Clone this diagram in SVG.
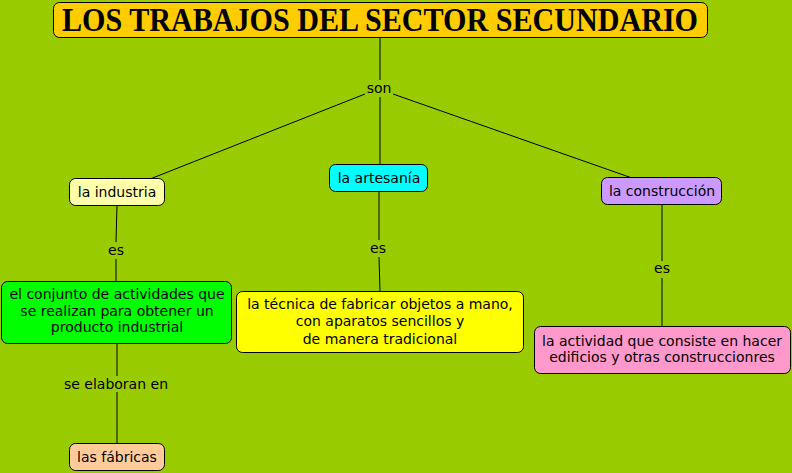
<svg xmlns="http://www.w3.org/2000/svg" width="792" height="473" viewBox="0 0 792 473">
<style>
.n{stroke:#000;stroke-width:1}
.t{font-family:"DejaVu Sans",Verdana,sans-serif;font-size:14px;fill:#000;text-anchor:middle}
.c line{stroke:#000;stroke-width:1}
.lbl{font-family:"DejaVu Sans",Verdana,sans-serif;font-size:14px;fill:#000;text-anchor:middle}
</style>
<rect width="792" height="473" fill="#99CC00"/>
<g class="c" id="connectors">
<line x1="380" y1="37" x2="380" y2="80"/>
<line x1="380" y1="97" x2="380" y2="164"/>
<line x1="365" y1="94" x2="150" y2="179"/>
<line x1="393" y1="94" x2="632" y2="178"/>
<line x1="117" y1="205" x2="116" y2="242"/>
<line x1="116" y1="259" x2="116" y2="281"/>
<line x1="117" y1="343" x2="117" y2="376"/>
<line x1="117" y1="392" x2="117" y2="443"/>
<line x1="379" y1="191" x2="379" y2="240"/>
<line x1="379" y1="257" x2="380" y2="291"/>
<line x1="662" y1="204" x2="662" y2="261"/>
<line x1="662" y1="278" x2="662" y2="326"/>
<text class="lbl" x="379" y="93">son</text>
<text class="lbl" x="116" y="255">es</text>
<text class="lbl" x="116" y="389">se elaboran en</text>
<text class="lbl" x="378" y="253">es</text>
<text class="lbl" x="662" y="273">es</text>
</g>
<g id="title">
<rect class="n" x="53.5" y="2.5" width="654" height="35" rx="6" fill="#FFCC00"/>
<text x="380" y="31" font-family="Liberation Serif,serif" font-size="33" font-weight="bold" text-anchor="middle" textLength="636" lengthAdjust="spacingAndGlyphs">LOS TRABAJOS DEL SECTOR SECUNDARIO</text>
</g>
<g id="industria">
<rect class="n" x="69.5" y="178.5" width="95" height="27" rx="6" fill="#FFFFAA"/>
<text class="t" x="117" y="197">la industria</text>
</g>
<g id="artesania">
<rect class="n" x="329.5" y="164.5" width="98" height="27" rx="6" fill="#00FFFF"/>
<text class="t" x="379" y="183">la artesanía</text>
</g>
<g id="construccion">
<rect class="n" x="601.5" y="177.5" width="120" height="27" rx="6" fill="#CC99FF"/>
<text class="t" x="662" y="196">la construcción</text>
</g>
<g id="conjunto">
<rect class="n" x="1.5" y="281.5" width="230" height="62" rx="6" fill="#00FF00"/>
<text class="t" x="117" y="299">el conjunto de actividades que</text>
<text class="t" x="117" y="316">se realizan para obtener un</text>
<text class="t" x="117" y="332">producto industrial</text>
</g>
<g id="tecnica">
<rect class="n" x="236.5" y="291.5" width="287" height="61" rx="6" fill="#FFFF00"/>
<text class="t" x="380" y="309">la técnica de fabricar objetos a mano,</text>
<text class="t" x="380" y="326">con aparatos sencillos y </text>
<text class="t" x="380" y="344"> de manera tradicional</text>
</g>
<g id="actividad">
<rect class="n" x="534.5" y="326.5" width="256" height="47" rx="6" fill="#FF99CC"/>
<text class="t" x="662" y="346">la actividad que consiste en hacer</text>
<text class="t" x="662" y="362">edificios y otras construccionres</text>
</g>
<g id="fabricas">
<rect class="n" x="69.5" y="443.5" width="95" height="27" rx="6" fill="#FFCC99"/>
<text class="t" x="117" y="462">las fábricas</text>
</g>
</svg>
